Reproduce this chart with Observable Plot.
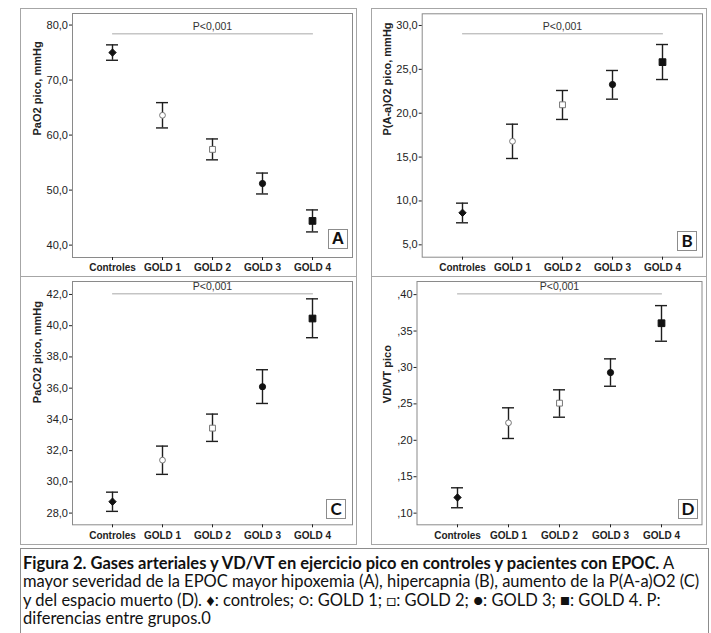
<!DOCTYPE html>
<html><head><meta charset="utf-8">
<script src="https://cdn.jsdelivr.net/npm/d3@7"></script>
<script src="https://cdn.jsdelivr.net/npm/@observablehq/plot@0.6"></script>
<style>
body{margin:0;background:#fff;}
#root{position:relative;width:711px;height:633px;overflow:hidden;background:#fff;font-family:'Liberation Sans',Arial,sans-serif;}
.panel{position:absolute;border:1px solid #a6a6a6;box-sizing:border-box;}
.plot{position:absolute;}
.letter{position:absolute;width:20px;height:20px;box-sizing:border-box;border:1px solid #8c8c8c;background:#fff;font-weight:bold;font-size:17px;line-height:18px;text-align:center;color:#111;}
#caption{position:absolute;left:20px;top:548px;width:689px;height:110px;box-sizing:border-box;border:1px solid #8c8c8c;padding:5px 0 0 2px;font-family:Lato,'Open Sans',sans-serif;font-size:16.5px;line-height:18.4px;color:#111;}
#caption div{white-space:nowrap;}
</style></head><body><div id="root"></div>
<script>
// ---- data ----
const groups = ["Controles", "GOLD 1", "GOLD 2", "GOLD 3", "GOLD 4"];

const paO2Mean = [75.0, 63.6, 57.4, 51.2, 44.4];
const paO2Low  = [73.6, 61.3, 55.5, 49.3, 42.4];
const paO2High = [76.4, 65.9, 59.3, 53.1, 46.4];
const paO2Ticks = [40, 50, 60, 70, 80];
const paO2P = 78.4;

const aaMean = [8.65, 16.8, 20.96, 23.27, 25.82];
const aaLow  = [7.51, 14.84, 19.29, 21.6, 23.84];
const aaHigh = [9.75, 18.75, 22.59, 24.87, 27.83];
const aaTicks = [5, 10, 15, 20, 25, 30];
const aaP = 29.05;

const paCO2Mean = [28.73, 31.39, 33.44, 36.09, 40.46];
const paCO2Low  = [28.11, 30.48, 32.59, 35.02, 39.23];
const paCO2High = [29.34, 32.29, 34.34, 37.18, 41.72];
const paCO2Ticks = [28, 30, 32, 34, 36, 38, 40, 42];
const paCO2P = 42.04;

const vdMean = [0.1215, 0.224, 0.251, 0.293, 0.3607];
const vdLow  = [0.1074, 0.2025, 0.2317, 0.2742, 0.336];
const vdHigh = [0.1348, 0.2446, 0.2693, 0.3118, 0.3849];
const vdTicks = [0.10, 0.15, 0.20, 0.25, 0.30, 0.35, 0.40];
const vdP = 0.401;

const pText = "P<0,001";
const yLabels = ["PaO2 pico, mmHg", "P(A-a)O2 pico, mmHg", "PaCO2 pico, mmHg", "VD/VT pico"];
const panelLetters = ["A", "B", "C", "D"];

// ---- styles / layout ----
const markerStyle = {
  "Controles": {symbol: "diamond2", fill: "#111", stroke: "#111", r: 3.3},
  "GOLD 1": {symbol: "circle", fill: "#fff", stroke: "#777", r: 2.9},
  "GOLD 2": {symbol: "square", fill: "#fff", stroke: "#777", r: 3.3},
  "GOLD 3": {symbol: "circle", fill: "#111", stroke: "#111", r: 3.1},
  "GOLD 4": {symbol: "square", fill: "#111", stroke: "#111", r: 3.8}
};
const layout = [
  {left: 20, top: 8, width: 337, height: 269, mL: 52, mR: 5, mT: 5, mB: 20, dx: -34.7, box: [328, 229], font: "'Liberation Sans',Arial,sans-serif"},
  {left: 371, top: 8, width: 336, height: 269, mL: 50.7, mR: 5, mT: 5.3, mB: 20.3, dx: -35, box: [677, 231], font: "Lato,sans-serif"},
  {left: 20, top: 276, width: 337, height: 269, mL: 52, mR: 5, mT: 5, mB: 20.7, dx: -34.7, box: [326, 499], font: "Lato,sans-serif"},
  {left: 371, top: 276, width: 336, height: 269, mL: 45.5, mR: 5.5, mT: 5, mB: 20.7, dx: -29.8, box: [678, 499], font: "Lato,sans-serif"}
];

const fmt1 = d => d.toFixed(1).replace(".", ",");
const fmt2 = d => d.toFixed(2).replace(/^0\./, ",");

const panels = [
  {mean: paO2Mean, low: paO2Low, high: paO2High, ticks: paO2Ticks, fmt: fmt1, domain: [37.75, 82.1], p: paO2P},
  {mean: aaMean, low: aaLow, high: aaHigh, ticks: aaTicks, fmt: fmt1, domain: [3.59, 31.33], p: aaP},
  {mean: paCO2Mean, low: paCO2Low, high: paCO2High, ticks: paCO2Ticks, fmt: fmt1, domain: [27.25, 42.83], p: paCO2P},
  {mean: vdMean, low: vdLow, high: vdHigh, ticks: vdTicks, fmt: fmt2, domain: [0.084, 0.418], p: vdP}
];

const root = document.getElementById("root");

panels.forEach((P, k) => {
  const L = layout[k];
  const rows = groups.map((g, i) => ({group: g, mean: P.mean[i], low: P.low[i], high: P.high[i]}));
  const pRows = [{group: groups[0], y: P.p}, {group: groups[groups.length - 1], y: P.p}];
  const pLabelRow = [{group: groups[2], y: P.p, t: pText}];
  const barColor = "#1e1e1e";
  const marks = [
    Plot.frame({stroke: "#8a8a8a"}),
    Plot.axisY({ticks: P.ticks, tickFormat: P.fmt, tickSize: 3, tickPadding: 1.5, label: null, fontSize: 11}),
    Plot.axisX({tickSize: 3, tickPadding: 3.6, label: null, fontWeight: "bold", fontSize: 10}),
    Plot.line(pRows, {x: "group", y: "y", stroke: "#a8a8a8", strokeWidth: 1}),
    Plot.text(pLabelRow, {x: "group", y: "y", text: "t", dy: -7, fontSize: 10.5, fill: "#333"}),
    Plot.ruleX(rows, {x: "group", y1: "low", y2: "high", stroke: barColor, strokeWidth: 1.4}),
    Plot.tickY(rows, {x: "group", y: "low", stroke: barColor, strokeWidth: 1.4}),
    Plot.tickY(rows, {x: "group", y: "high", stroke: barColor, strokeWidth: 1.4}),
    ...groups.map(g => {
      const s = markerStyle[g];
      return Plot.dot(rows.filter(d => d.group === g), {x: "group", y: "mean", symbol: s.symbol, fill: s.fill, stroke: s.stroke, r: s.r, strokeWidth: 1});
    }),
    Plot.text([yLabels[k]], {text: d => d, frameAnchor: "left", rotate: -90, dx: L.dx, fontWeight: "bold", fontSize: 11, fill: "#222"})
  ];
  const svg = Plot.plot({
    width: L.width, height: L.height,
    marginLeft: L.mL, marginRight: L.mR, marginTop: L.mT, marginBottom: L.mB,
    x: {type: "band", domain: groups, paddingInner: 0.756, paddingOuter: 0.655},
    y: {domain: P.domain},
    style: {fontFamily: "'Liberation Sans',Arial,sans-serif", fontSize: "11px", color: "#222", background: "transparent", overflow: "visible"},
    marks
  });
  const border = document.createElement("div");
  border.className = "panel";
  Object.assign(border.style, {left: L.left + "px", top: L.top + "px", width: L.width + "px", height: L.height + "px"});
  root.appendChild(border);
  svg.classList.add("plot");
  svg.style.left = L.left + "px";
  svg.style.top = L.top + "px";
  root.appendChild(svg);
  const box = document.createElement("div");
  box.className = "letter";
  box.textContent = panelLetters[k];
  Object.assign(box.style, {left: L.box[0] + "px", top: L.box[1] + "px", fontFamily: L.font});
  root.appendChild(box);
});

const cap = document.createElement("div");
cap.id = "caption";
cap.innerHTML =
  "<div><b>Figura 2. Gases arteriales y VD/VT en ejercicio pico en controles y pacientes con EPOC.</b> A</div>" +
  "<div>mayor severidad de la EPOC mayor hipoxemia (A), hipercapnia (B), aumento de la P(A-a)O2 (C)</div>" +
  "<div>y del espacio muerto (D). \u2666: controles; \u25CB: GOLD 1; \u25A1: GOLD 2; \u25CF: GOLD 3; \u25A0: GOLD 4. P:</div>" +
  "<div>diferencias entre grupos.0</div>";
root.appendChild(cap);
</script></body></html>
